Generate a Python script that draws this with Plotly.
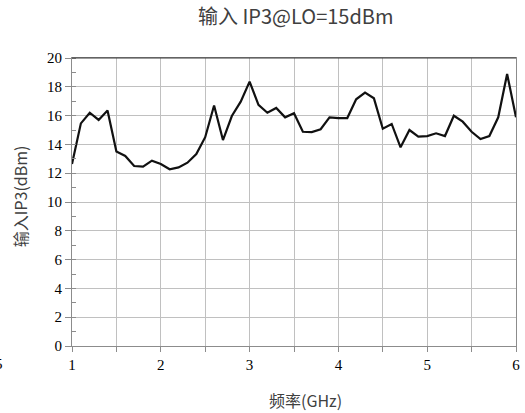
import plotly.graph_objects as go

# Frequency sweep (GHz) and measured input IP3 (dBm)
freq_ghz = [1.0, 1.1, 1.2, 1.3, 1.4, 1.5, 1.6, 1.7, 1.8, 1.9,
            2.0, 2.1, 2.2, 2.3, 2.4, 2.5, 2.6, 2.7, 2.8, 2.9,
            3.0, 3.1, 3.2, 3.3, 3.4, 3.5, 3.6, 3.7, 3.8, 3.9,
            4.0, 4.1, 4.2, 4.3, 4.4, 4.5, 4.6, 4.7, 4.8, 4.9,
            5.0, 5.1, 5.2, 5.3, 5.4, 5.5, 5.6, 5.7, 5.8, 5.9, 6.0]
iip3_dbm = [12.64, 15.46, 16.2, 15.7, 16.35, 13.5, 13.2, 12.5, 12.45, 12.87,
            12.64, 12.27, 12.4, 12.73, 13.33, 14.5, 16.7, 14.3, 15.97, 16.97,
            18.36, 16.74, 16.2, 16.53, 15.88, 16.16, 14.88, 14.86, 15.05, 15.88,
            15.83, 15.83, 17.13, 17.6, 17.2, 15.09, 15.42, 13.8, 15.0, 14.54,
            14.58, 14.77, 14.58, 15.99, 15.58, 14.88, 14.37, 14.58, 15.88, 18.89, 15.88]

x_ticks = [1, 2, 3, 4, 5, 6]
y_ticks = [0, 2, 4, 6, 8, 10, 12, 14, 16, 18, 20]

title_text = "输入 IP3@LO=15dBm"
x_title = "频率(GHz)"
y_title = "输入IP3(dBm)"

cjk = "Noto Sans CJK SC, Noto Sans, sans-serif"
serif = "Liberation Serif, Times New Roman, serif"

fig = go.Figure()
fig.add_trace(go.Scatter(
    x=freq_ghz, y=iip3_dbm, mode="lines",
    line=dict(color="#111111", width=2.2),
    showlegend=False, hoverinfo="skip",
))

grid_c = "#c0c0c0"
axis_c = "#8c8c8c"

fig.update_layout(
    width=525, height=413,
    margin=dict(l=72, r=5, t=58, b=67),
    paper_bgcolor="white", plot_bgcolor="white",
    xaxis=dict(
        range=[1, 6], tickvals=x_ticks, ticktext=[str(v) for v in x_ticks],
        ticks="outside", ticklen=5, tickcolor=axis_c, tickwidth=1,
        showgrid=True, gridcolor=grid_c, gridwidth=1.2,
        showline=True, linecolor=axis_c, linewidth=1, mirror=True,
        zeroline=False,
        tickfont=dict(family=serif, size=15, color="#000000"),
        minor=dict(dtick=0.5, tick0=1, ticks="outside", ticklen=5,
                   tickcolor=axis_c, showgrid=True, gridcolor=grid_c, gridwidth=1.2),
    ),
    yaxis=dict(
        range=[0, 20], tickvals=y_ticks, ticktext=[str(v) for v in y_ticks],
        ticks="outside", ticklen=6, tickcolor=axis_c, tickwidth=1,
        showgrid=True, gridcolor=grid_c, gridwidth=1.2,
        showline=True, linecolor=axis_c, linewidth=1, mirror=True,
        zeroline=False,
        tickfont=dict(family=serif, size=15, color="#000000"),
        minor=dict(dtick=1, tick0=1, ticks="inside", ticklen=4,
                   tickcolor=axis_c, showgrid=False),
    ),
    shapes=[
        dict(type="line", xref="paper", yref="paper", x0=0, x1=1, y0=1, y1=1,
             line=dict(color="#3a3a3a", width=1.2)),
    ],
    annotations=[
        dict(text=title_text, xref="paper", yref="paper", x=0.505, y=1.0,
             yshift=43, showarrow=False, xanchor="center", yanchor="middle",
             font=dict(family=cjk, size=20, color="#404040")),
        dict(text=x_title, xref="paper", yref="paper", x=0.525, y=0,
             yshift=-54, showarrow=False, xanchor="center", yanchor="middle",
             font=dict(family=cjk, size=16, color="#404040")),
        dict(text=y_title, xref="paper", yref="paper", x=0, y=0.52,
             xshift=-52, showarrow=False, xanchor="center", yanchor="middle",
             textangle=-90, font=dict(family=cjk, size=16, color="#404040")),
        dict(text="5", xref="paper", yref="paper", x=0, y=0,
             xshift=-73, yshift=-18, showarrow=False, xanchor="center", yanchor="middle",
             font=dict(family=serif, size=15, color="#000000")),
    ],
)

fig.write_html("out.html")
